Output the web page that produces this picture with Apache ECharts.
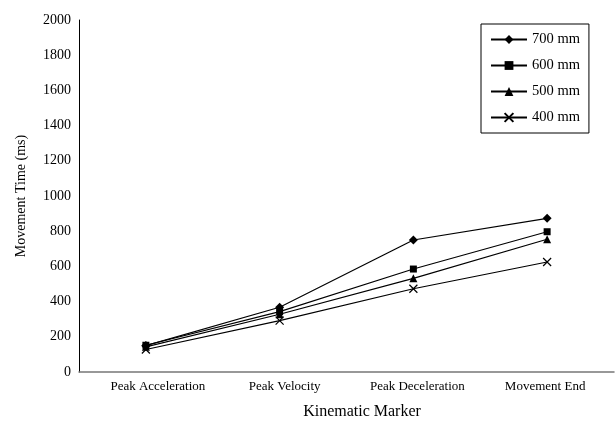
<!DOCTYPE html>
<html><head><meta charset="utf-8">
<script src="https://cdn.jsdelivr.net/npm/echarts@6/dist/echarts.min.js"></script>
<style>html,body{margin:0;padding:0;background:#fff}#c{width:615px;height:423px}</style>
</head><body><div id="c"></div>
<script>
const categories = ['Peak Acceleration', 'Peak Velocity', 'Peak Deceleration', 'Movement End'];
const s700 = [150, 368, 750, 873];
const s600 = [152, 343, 585, 797];
const s500 = [143, 328, 532, 754];
const s400 = [128, 292, 473, 625];
const seriesNames = ['700 mm', '600 mm', '500 mm', '400 mm'];
const F = 'Liberation Serif, Times New Roman, serif';
const xPath = 'path://M0,0L10,10M10,0L0,10';
function mk(name, data, symbol, size, extra) {
  return {
    name, type: 'line', data, symbol, symbolSize: size,
    lineStyle: { color: '#000', width: 1.2 },
    itemStyle: Object.assign({ color: '#000' }, extra || {}),
    emphasis: { disabled: true }, animation: false
  };
}
const labelPad = [[0, 0, 0, 24], [0, 0, 0, 10], [0, 0, 0, 8], [0, 4, 0, 0]];
const chart = echarts.init(document.getElementById('c'));
chart.setOption({
  backgroundColor: '#fff',
  animation: false,
  grid: { left: 79, right: 1, top: 20, bottom: 51, containLabel: false, outerBoundsMode: 'none' },
  legend: {
    orient: 'vertical', left: 481, top: 24,
    borderColor: '#000', borderWidth: 1,
    padding: [8, 9, 8, 9],
    itemWidth: 36, itemHeight: 11, itemGap: 11,
    textStyle: { fontFamily: F, fontSize: 14.5, color: '#000' },
    data: seriesNames
  },
  xAxis: {
    type: 'category',
    data: categories.map((c, i) => ({ value: c, textStyle: { padding: labelPad[i] } })),
    boundaryGap: true,
    name: 'Kinematic Marker', nameLocation: 'middle', nameGap: 32,
    nameTextStyle: { fontFamily: F, fontSize: 16, color: '#000', padding: [0, 0, 0, 31] },
    axisLine: { lineStyle: { color: '#777', width: 1.5 } },
    axisTick: { show: false },
    axisLabel: { fontFamily: F, fontSize: 13, color: '#000', margin: 8 },
    splitLine: { show: false }
  },
  yAxis: {
    type: 'value', min: 0, max: 2000, interval: 200,
    name: 'Movement Time (ms)', nameLocation: 'middle', nameGap: 51,
    nameTextStyle: { fontFamily: F, fontSize: 14, color: '#000' },
    axisLine: { show: true, lineStyle: { color: '#000', width: 1 } },
    axisTick: { show: false },
    axisLabel: { fontFamily: F, fontSize: 14, color: '#000', margin: 8, formatter: v => String(v) },
    splitLine: { show: false }
  },
  series: [
    mk(seriesNames[0], s700, 'diamond', 9),
    mk(seriesNames[1], s600, 'rect', 7),
    mk(seriesNames[2], s500, 'triangle', 8),
    mk(seriesNames[3], s400, xPath, 8, { color: 'none', borderColor: '#000', borderWidth: 1.2 })
  ]
});
</script></body></html>
